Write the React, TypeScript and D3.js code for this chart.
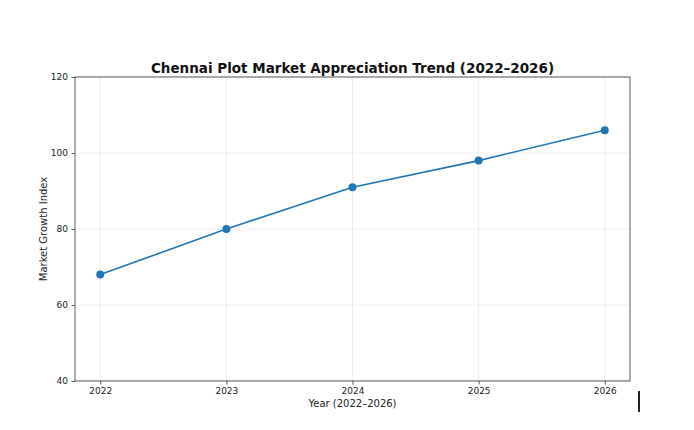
import { useEffect, useRef } from "react";
import * as d3 from "d3";

const years = [2022, 2023, 2024, 2025, 2026];
const growthIndex = [68, 80, 91, 98, 106];
const yTicks = [40, 60, 80, 100, 120];

const App = () => {
    const chartRef = useRef<SVGSVGElement | null>(null);

    useEffect(() => {
        if (!chartRef.current) return;
        d3.select(chartRef.current).selectAll("*").remove();

        const width = 694;
        const height = 430;
        const margin = { top: 77, right: 64, bottom: 49, left: 75 };

        const svg = d3.select(chartRef.current)
            .attr("width", width)
            .attr("height", height)
            .style("font-family", "'DejaVu Sans', sans-serif");

        svg.append("rect").attr("width", width).attr("height", height).attr("fill", "#fff");

        const x = d3.scaleLinear()
            .domain([2021.8, 2026.2])
            .range([margin.left, width - margin.right]);

        const y = d3.scaleLinear()
            .domain([40, 120])
            .range([height - margin.bottom, margin.top]);

        // grid
        svg.append("g")
            .selectAll("line")
            .data(years)
            .enter().append("line")
            .attr("x1", d => x(d)).attr("x2", d => x(d))
            .attr("y1", margin.top).attr("y2", height - margin.bottom)
            .attr("stroke", "#b0b0b0").attr("stroke-opacity", 0.3).attr("stroke-width", 0.8);
        svg.append("g")
            .selectAll("line")
            .data(yTicks)
            .enter().append("line")
            .attr("x1", margin.left).attr("x2", width - margin.right)
            .attr("y1", d => y(d)).attr("y2", d => y(d))
            .attr("stroke", "#b0b0b0").attr("stroke-opacity", 0.3).attr("stroke-width", 0.8);

        // axes
        const xAxis = svg.append("g")
            .attr("transform", `translate(0,${height - margin.bottom})`)
            .call(d3.axisBottom(x).tickValues(years).tickFormat(d3.format("d")).tickSize(3.5).tickPadding(3.5));
        const yAxis = svg.append("g")
            .attr("transform", `translate(${margin.left},0)`)
            .call(d3.axisLeft(y).tickValues(yTicks).tickSize(3.5).tickPadding(3.5));
        [xAxis, yAxis].forEach(a => {
            a.select(".domain").remove();
            a.selectAll("line").attr("stroke", "#333").attr("stroke-width", 0.8);
            a.selectAll("text").attr("fill", "#222").style("font-size", "9px").style("font-family", "'DejaVu Sans', sans-serif");
        });

        svg.append("rect")
            .attr("x", margin.left).attr("y", margin.top)
            .attr("width", width - margin.left - margin.right)
            .attr("height", height - margin.top - margin.bottom)
            .attr("fill", "none").attr("stroke", "#333").attr("stroke-width", 0.8);

        // line + markers
        const line = d3.line<number>()
            .x((_, i) => x(years[i]))
            .y(d => y(d));
        svg.append("path")
            .datum(growthIndex)
            .attr("d", line)
            .attr("fill", "none")
            .attr("stroke", "#1f77b4")
            .attr("stroke-width", 1.6);
        svg.selectAll(".pt")
            .data(growthIndex)
            .enter().append("circle")
            .attr("cx", (_, i) => x(years[i]))
            .attr("cy", d => y(d))
            .attr("r", 4)
            .attr("fill", "#1f77b4");

        // labels
        svg.append("text")
            .attr("x", (margin.left + width - margin.right) / 2)
            .attr("y", 73)
            .attr("text-anchor", "middle")
            .style("font-size", "13.5px")
            .style("font-weight", "bold")
            .attr("fill", "#111")
            .text("Chennai Plot Market Appreciation Trend (2022–2026)");
        svg.append("text")
            .attr("x", (margin.left + width - margin.right) / 2)
            .attr("y", 407)
            .attr("text-anchor", "middle")
            .style("font-size", "10px")
            .attr("fill", "#222")
            .text("Year (2022–2026)");
        svg.append("text")
            .attr("transform", `translate(47,${(margin.top + height - margin.bottom) / 2}) rotate(-90)`)
            .attr("text-anchor", "middle")
            .style("font-size", "10px")
            .attr("fill", "#222")
            .text("Market Growth Index");

        // stray cursor mark
        svg.append("rect")
            .attr("x", 638).attr("y", 391)
            .attr("width", 2).attr("height", 21)
            .attr("fill", "#222");
    }, []);

    return (
        <svg ref={chartRef} style={{ position: "absolute", left: 0, top: 0 }}></svg>
    );
};

export default App;
